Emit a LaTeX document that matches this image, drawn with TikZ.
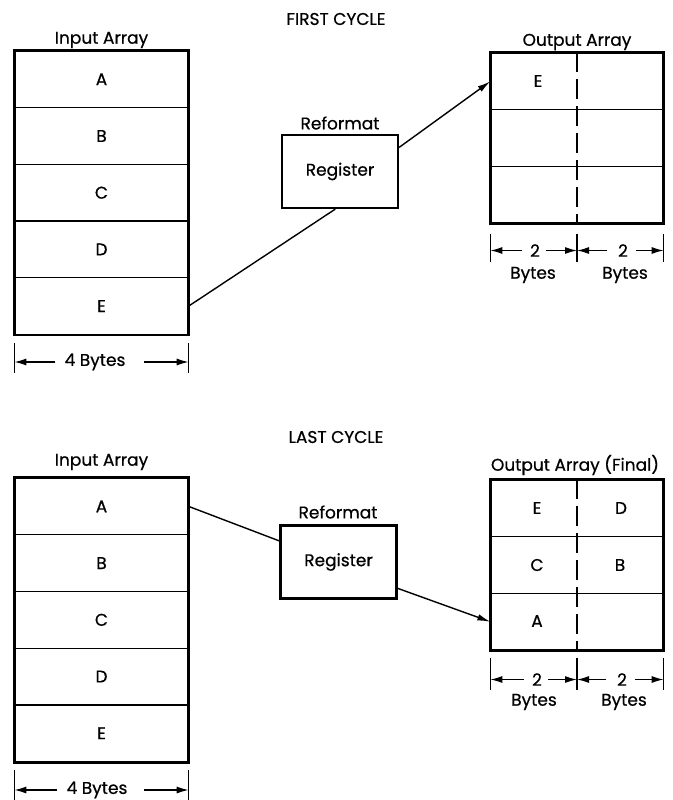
\documentclass[tikz,border=0pt]{standalone}
\usepackage{fontspec}
\setmainfont{Poppins}[FakeBold=0.6]
\usetikzlibrary{arrows.meta,calc}

\begin{document}
\begin{tikzpicture}[x=1pt,y=-1pt,
  every node/.style={font=\fontsize{17}{19}\selectfont, inner sep=0pt},
  cell/.style={draw, line width=1.3pt, minimum width=173pt, minimum height=56.7pt},
  ocell/.style={draw, line width=1.3pt, minimum width=172pt, minimum height=56.7pt},
  frame/.style={line width=2.6pt},
  regbox/.style={draw, line width=2.2pt, minimum width=116pt, minimum height=73pt},
  link/.style={line width=1.4pt},
  linkarrow/.style={link, -{Latex[length=13pt,width=6.5pt]}},
  dimline/.style={line width=1.3pt, -{Latex[length=12pt,width=7pt]}},
  tick/.style={line width=1.3pt},
  divider/.style={line width=2pt, dash pattern=on 20pt off 7pt},
]
\useasboundingbox (0,0) rectangle (672,800);

% ---------------- first cycle ----------------
\node (title1) at (336,19) {FIRST CYCLE};

% input array
\node (inlab1) at (101.5,40) {Input Array};
\node[cell] (ia1) at (101.5,79.3)  {A};
\node[cell] (ia2) at (101.5,136.0) {B};
\node[cell] (ia3) at (101.5,192.7) {C};
\node[cell] (ia4) at (101.5,249.4) {D};
\node[cell] (ia5) at (101.5,306.1) {E};
\draw[frame] (ia1.north west) rectangle (ia5.south east);

% register
\node (rf1) at (340,123) {Reformat};
\node[regbox] (rg1) at (340,171.5) {Register};

% output array
\node (outlab1) at (577,42) {Output Array};
\node[ocell] (oa1) at (577,81.35) {};
\node[ocell] (oa2) at (577,138.05) {};
\node[ocell] (oa3) at (577,194.75) {};
\draw[frame] (oa1.north west) rectangle (oa3.south east);
\draw[divider] (oa1.north) -- (oa3.south);
\node (oe1) at (538,81) {E};

% data path
\draw[link] (ia5.east) -- ($(rg1.south west)!0.46!(rg1.south east)$);
\draw[linkarrow] ($(rg1.north east)!0.18!(rg1.south east)$) -- (oa1.west);

% width of the input array
\draw[tick] ($(ia5.south west)+(0,8)$) -- ++(0,30);
\draw[tick] ($(ia5.south east)+(0,8)$) -- ++(0,30);
\node (ib1) at (95,362) {4 Bytes};
\draw[dimline] ($(ib1.west)+(-9,0)$) -- (ia5.south west |- ib1.west);
\draw[dimline] ($(ib1.east)+(18,0)$) -- (ia5.south east |- ib1.east);

% widths of the output halves
\draw[tick] ($(oa3.south west)+(0,10)$) -- ++(0,28);
\draw[tick] ($(oa3.south)+(0,10)$) -- ++(0,28);
\draw[tick] ($(oa3.south east)+(0,10)$) -- ++(0,28);
\node (od1) at (535,250.5) {2};
\node (od2) at (623,250.5) {2};
\draw[dimline] ($(od1.west)+(-8,0)$) -- (oa3.south west |- od1.west);
\draw[dimline] ($(od1.east)+(6,0)$) -- (oa3.south |- od1.east);
\draw[dimline] ($(od2.west)+(-11,0)$) -- (oa3.south |- od2.west);
\draw[dimline] ($(od2.east)+(8,0)$) -- (oa3.south east |- od2.east);
\node (ob1) at (533,275) {Bytes};
\node (ob2) at (625,275) {Bytes};

% ---------------- last cycle ----------------
\node (title2) at (336,437) {LAST CYCLE};

% input array
\node (inlab2) at (101.5,462) {Input Array};
\node[cell] (ja1) at (101.5,506.4) {A};
\node[cell] (ja2) at (101.5,563.1) {B};
\node[cell] (ja3) at (101.5,619.8) {C};
\node[cell] (ja4) at (101.5,676.5) {D};
\node[cell] (ja5) at (101.5,733.2) {E};
\draw[frame] (ja1.north west) rectangle (ja5.south east);

% register
\node (rf2) at (338,512) {Reformat};
\node[regbox] (rg2) at (338.5,562) {Register};

% output array
\node (outlab2) at (575,465) {Output Array (Final)};
\node[ocell] (pa1) at (577,508.35) {};
\node[ocell] (pa2) at (577,565.05) {};
\node[ocell] (pa3) at (577,621.75) {};
\draw[frame] (pa1.north west) rectangle (pa3.south east);
\draw[divider] (pa1.north) -- (pa3.south);
\node (pe) at (537,508) {E};
\node (pd) at (621,508) {D};
\node (pc) at (537,565) {C};
\node (pb) at (620,565) {B};
\node (pA) at (537,621) {A};

% data path
\draw[link] (ja1.east) -- ($(rg2.north west)!0.22!(rg2.south west)$);
\draw[linkarrow] ($(rg2.north east)!0.85!(rg2.south east)$) -- (pa3.west);

% width of the input array
\draw[tick] ($(ja5.south west)+(0,8)$) -- ++(0,30);
\draw[tick] ($(ja5.south east)+(0,8)$) -- ++(0,30);
\node (jb1) at (97,790) {4 Bytes};
\draw[dimline] ($(jb1.west)+(-9,0)$) -- (ja5.south west |- jb1.west);
\draw[dimline] ($(jb1.east)+(16,0)$) -- (ja5.south east |- jb1.east);

% widths of the output halves
\draw[tick] ($(pa3.south west)+(0,7)$) -- ++(0,32);
\draw[tick] ($(pa3.south)+(0,7)$) -- ++(0,32);
\draw[tick] ($(pa3.south east)+(0,7)$) -- ++(0,32);
\node (pd1) at (537,679.5) {2};
\node (pd2) at (622,679.5) {2};
\draw[dimline] ($(pd1.west)+(-8,0)$) -- (pa3.south west |- pd1.west);
\draw[dimline] ($(pd1.east)+(6,0)$) -- (pa3.south |- pd1.east);
\draw[dimline] ($(pd2.west)+(-11,0)$) -- (pa3.south |- pd2.west);
\draw[dimline] ($(pd2.east)+(8,0)$) -- (pa3.south east |- pd2.east);
\node (pb1) at (534,702) {Bytes};
\node (pb2) at (624,702) {Bytes};
\end{tikzpicture}
\end{document}
